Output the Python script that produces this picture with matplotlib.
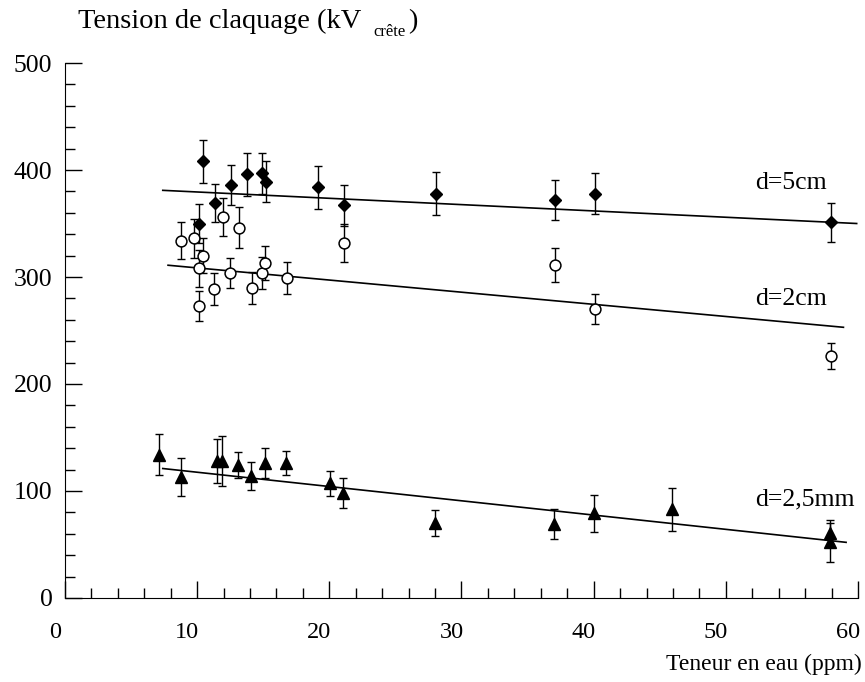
import matplotlib.pyplot as plt
import matplotlib.transforms as mtransforms
from matplotlib.ticker import MultipleLocator

plt.rcParams['font.family'] = ['Liberation Serif', 'DejaVu Serif']

# d = 5 cm (losanges pleins)
x_5cm = [10.44, 11.32, 10.14, 12.58, 13.76, 14.92, 15.22, 19.12, 21.13, 28.1, 37.1, 40.13, 57.99]
y_5cm = [408, 369, 350, 386, 396, 397, 389, 384, 367, 378, 372, 378, 351]
e_5cm = [20, 18, 18, 19, 20, 19, 19, 20, 19, 20, 19, 19, 18]

# d = 2 cm (cercles vides)
x_2cm = [8.8, 9.79, 10.14, 10.44, 10.14, 11.3, 11.95, 12.5, 13.15, 14.14, 14.92, 15.17, 16.78, 21.13, 37.06, 40.08, 57.94]
y_2cm = [334, 336, 308, 320, 273, 289, 356, 304, 346, 290, 304, 313, 299, 332, 311, 270, 226]
e_2cm = [17, 18, 17, 16, 14, 15, 18, 14, 19, 15, 15, 16, 15, 18, 16, 14, 12]

# d = 2,5 mm (triangles pleins)
x_25mm = [7.09, 8.75, 11.52, 11.87, 13.08, 14.04, 15.15, 16.73, 20.05, 21.06, 28.0, 36.98, 40.0, 45.96, 57.9, 57.9]
y_25mm = [134, 113, 128, 128, 124, 114, 126, 126, 107, 98, 70, 69, 79, 83, 61, 52]
e_25mm = [19, 18, 21, 23, 12, 13, 14, 11, 12, 14, 12, 14, 17, 20, 12, 18]

# droites de regression (x debut, x fin) et (y debut, y fin)
fit_x_5cm, fit_y_5cm = [7.4, 59.9], [381, 350]
fit_x_2cm, fit_y_2cm = [7.8, 58.9], [311, 253]
fit_x_25mm, fit_y_25mm = [7.4, 59.1], [121, 52]

fig = plt.figure(figsize=(8.65, 6.82), dpi=100)
ax = fig.add_axes([0.0751, 0.1232, 0.9168, 0.7844])

eb = dict(fmt='none', ecolor='black', elinewidth=1.0, capsize=2.8, capthick=1.0, zorder=2)
ax.errorbar(x_5cm, y_5cm, yerr=e_5cm, **eb)
ax.errorbar(x_2cm, y_2cm, yerr=e_2cm, **eb)
ax.errorbar(x_25mm, y_25mm, yerr=e_25mm, **eb)

ax.plot(fit_x_5cm, fit_y_5cm, color='black', lw=1.2, zorder=3)
ax.plot(fit_x_2cm, fit_y_2cm, color='black', lw=1.2, zorder=3)
ax.plot(fit_x_25mm, fit_y_25mm, color='black', lw=1.2, zorder=3)

ax.plot(x_5cm, y_5cm, 'D', color='black', ms=6.5, ls='none', zorder=4)
ax.plot(x_2cm, y_2cm, 'o', mfc='white', mec='black', mew=1.1, ms=7.8, ls='none', zorder=4)
ax.plot(x_25mm, y_25mm, '^', color='black', ms=8.5, ls='none', zorder=4)

ax.text(54.9, 388, 'd=5cm', fontsize=18.5, ha='center', va='center')
ax.text(54.9, 279, 'd=2cm', fontsize=18.5, ha='center', va='center')
ax.text(56.0, 92, 'd=2,5mm', fontsize=18.5, ha='center', va='center')

ax.set_xlim(0, 60)
ax.set_ylim(0, 500)
ax.xaxis.set_major_locator(MultipleLocator(10))
ax.xaxis.set_minor_locator(MultipleLocator(2))
ax.yaxis.set_major_locator(MultipleLocator(100))
ax.yaxis.set_minor_locator(MultipleLocator(20))
ax.tick_params(which='major', direction='in', length=12.5, width=1)
ax.tick_params(which='minor', direction='in', length=7, width=1)
ax.tick_params(axis='x', which='major', labelsize=17.5, pad=17)
ax.tick_params(axis='y', which='major', labelsize=18.5, pad=9)
ax.spines['top'].set_visible(False)
ax.spines['right'].set_visible(False)

# decalage des etiquettes x comme sur l'original
offset = mtransforms.ScaledTranslation(-10 / 100, 0, fig.dpi_scale_trans)
for lab in ax.get_xticklabels():
    lab.set_transform(lab.get_transform() + offset)

# titre de l'axe y avec indice "crête"
base = 1 - 28 / 682
fig.text(78 / 865, base, 'Tension de claquage (kV', fontsize=20.5, ha='left', va='baseline')
fig.text(373 / 865, 1 - 36 / 682, 'crête', fontsize=12, ha='left', va='baseline')
fig.text(408 / 865, base, ')', fontsize=20.5, ha='left', va='baseline')

fig.text(862 / 865, 12 / 682, 'Teneur en eau (ppm)', fontsize=17, ha='right', va='baseline')

fig.savefig('out.png', dpi=100)
